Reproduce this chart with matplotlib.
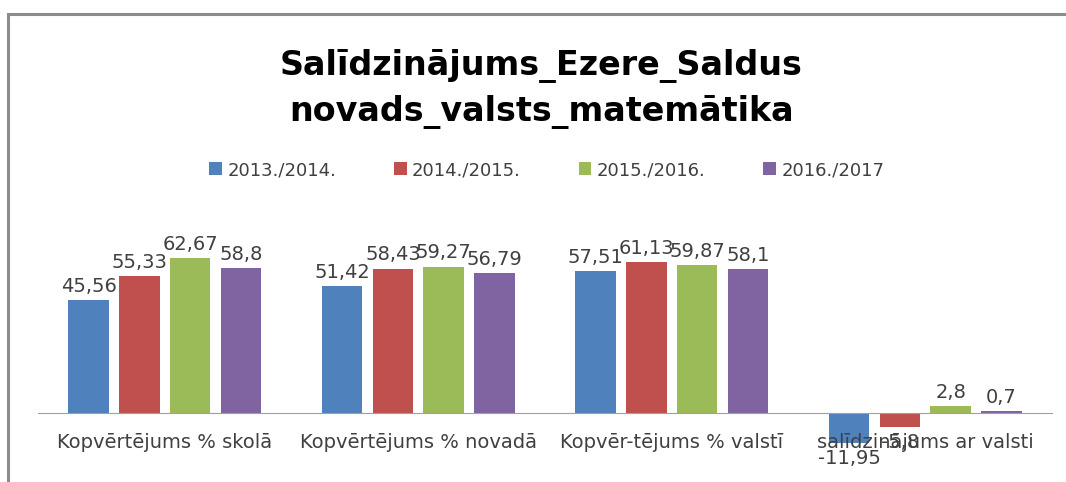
import numpy as np
import matplotlib
matplotlib.use('Agg')
from matplotlib import pyplot as plt
from matplotlib.patches import Rectangle

# dati no diagrammas
categories = ['Kopvērtējums % skolā', 'Kopvērtējums % novadā',
              'Kopvēr-tējums % valstī', 'salīdzinājums ar valsti']
series_names = ['2013./2014.', '2014./2015.', '2015./2016.', '2016./2017']
v_2013 = [45.56, 51.42, 57.51, -11.95]
v_2014 = [55.33, 58.43, 61.13, -5.8]
v_2015 = [62.67, 59.27, 59.87, 2.8]
v_2016 = [58.8, 56.79, 58.1, 0.7]
colors = ['#4F81BD', '#C0504D', '#9BBB59', '#8064A2']

fig = plt.figure(figsize=(10.66, 4.82), dpi=100)
plt.rcParams['font.family'] = ['DejaVu Sans']

# rāmis ap diagrammu
fig.patches.append(Rectangle((8 / 1066, -0.1), 1.2, 1.1 - 14 / 482,
                             transform=fig.transFigure, fill=False,
                             edgecolor='#8c8c8c', linewidth=2.2))

ax = fig.add_axes([38 / 1066, 1 - 470 / 482, 1014 / 1066, 230 / 482])
x = np.arange(len(categories))
width = 0.16
offsets = [-0.3, -0.1, 0.1, 0.3]
for vals, name, col, off in zip([v_2013, v_2014, v_2015, v_2016],
                                series_names, colors, offsets):
    bars = ax.bar(x + off, vals, width, color=col, label=name)
    labels = [str(v).replace('.', ',') for v in vals]
    ax.bar_label(bars, labels=labels, padding=3, fontsize=14, color='#404040')

# negatīvās vērtības nedaudz zemāk, kā oriģinālā
for t in ax.texts:
    if t.get_text().startswith('-'):
        t.set_y(t.get_position()[1] - 1.2)

ax.set_xlim(-0.5, len(categories) - 0.5)
ax.set_ylim(-23, 70)
ax.set_yticks([])
for s in ['top', 'right', 'left']:
    ax.spines[s].set_visible(False)
ax.spines['bottom'].set_position(('data', 0))
ax.spines['bottom'].set_color('#a0a0a0')
ax.set_xticks(x)
ax.set_xticklabels(categories, fontsize=14, color='#404040')
ax.tick_params(axis='x', length=0, pad=14)

fig.text(0.508, 1 - 89 / 482, 'Salīdzinājums_Ezere_Saldus\nnovads_valsts_matemātika',
         ha='center', va='center', fontsize=24, fontweight='bold',
         linespacing=1.45, color='#000000')

fig.legend(loc='center', bbox_to_anchor=(0.513, 1 - 170 / 482), ncol=4,
           frameon=False, fontsize=13, handlelength=0.7, handleheight=0.7,
           handletextpad=0.3, columnspacing=3.2, labelcolor='#404040')

plt.savefig('out.png', dpi=100)
